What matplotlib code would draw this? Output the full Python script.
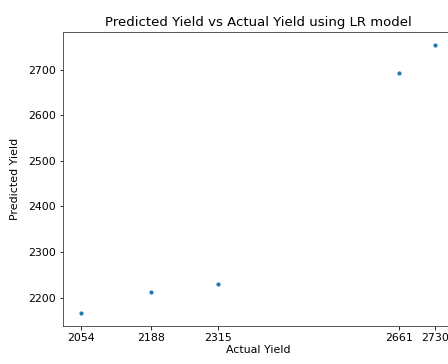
import numpy as np
import matplotlib
matplotlib.use('Agg')
import matplotlib.pyplot as plt

# 实际产量与模型预测产量
actual_yield = [2054, 2188, 2315, 2661, 2730]
predicted_yield = [2167, 2212, 2229, 2693, 2753]

plt.rcParams['xtick.labelsize'] = 11
plt.rcParams['ytick.labelsize'] = 11

fig = plt.figure(figsize=(448 / 72, 364 / 72), dpi=72)
# 坐标轴右边缘略超出画布
ax = fig.add_axes([63 / 448, 1 - 326 / 364, 390 / 448, 294 / 364])

ax.scatter(actual_yield, predicted_yield, s=10, color='#1f77b4')
ax.set_xticks(actual_yield)
for sp in ax.spines.values():
    sp.set_color('#333333')

ax.set_title('Predicted Yield vs Actual Yield using LR model', fontsize=13.2)
ax.set_xlabel('Actual Yield', fontsize=11, labelpad=2)
ax.set_ylabel('Predicted Yield', fontsize=11, labelpad=8)

fig.savefig('out.png', dpi=72)
plt.close(fig)
